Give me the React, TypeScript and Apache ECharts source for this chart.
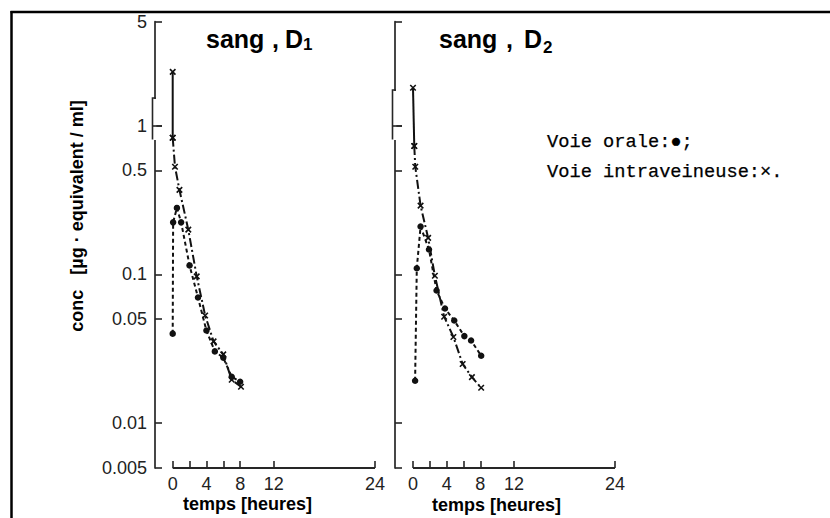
import React, { useEffect, useRef } from "react";
import * as echarts from "echarts";

// Axis ticks and labels
const timeTicks = [0, 2, 4, 6, 8, 12, 24];
const timeLabels = [0, 4, 8, 12, 24];
const concTicks = [0.005, 0.01, 0.05, 0.1, 0.5, 1, 5];
const concLabels = ["0.005", "0.01", "0.05", "0.1", "0.5", "1", "5"];

// sang, D1 — [temps (h), conc (µg-équivalent/ml)]
const d1Iv: [number, number][] = [
  [0, 2.3], [0, 0.83], [0.27, 0.53], [0.8, 0.37], [1.85, 0.2], [2.85, 0.097],
  [3.85, 0.053], [4.85, 0.0355], [6, 0.029], [7, 0.0196], [8.1, 0.0176],
];
const d1Oral: [number, number][] = [
  [0, 0.04], [0.05, 0.224], [0.5, 0.28], [1, 0.224], [2, 0.115], [3, 0.07],
  [4, 0.042], [5, 0.0304], [6, 0.0276], [7, 0.0205], [8, 0.019],
];

// sang, D2
const d2Iv: [number, number][] = [
  [0, 1.8], [0.15, 0.73], [0.27, 0.53], [0.9, 0.29], [1.8, 0.176], [2.6, 0.098],
  [3.7, 0.052], [4.8, 0.038], [5.9, 0.025], [7, 0.0204], [8.1, 0.0173],
];
const d2Oral: [number, number][] = [
  [0.25, 0.0193], [0.45, 0.11], [0.9, 0.21], [1.9, 0.147], [2.8, 0.078], [3.8, 0.059],
  [4.9, 0.049], [6.1, 0.0385], [6.9, 0.036], [8.1, 0.0284],
];

const INK = "#111";
const AXIS = "#262626";
const SANS = "Liberation Sans, Arial, sans-serif";
const MONO = "Liberation Mono, Courier New, monospace";

const PLOT_TOP = 21.7;
const PLOT_BOTTOM = 468;

// y-axis position, x of t=0, x of t=24
const panels = [
  { axisX: 155, zeroX: 172.7, endX: 375, iv: d1Iv, oral: d1Oral, showY: true },
  { axisX: 395, zeroX: 413, endX: 615, iv: d2Iv, oral: d2Oral, showY: false },
];

const CROSS = "path://M0,0L10,10M10,0L0,10";

function buildOption() {
  const grid: any[] = [];
  const xAxis: any[] = [];
  const yAxis: any[] = [];
  const series: any[] = [];
  const graphic: any[] = [];

  panels.forEach((p, i) => {
    const perHour = (p.endX - p.zeroX) / 24;
    const xMin = -(p.zeroX - p.axisX) / perHour;
    grid.push({
      left: p.axisX,
      top: PLOT_TOP,
      width: p.endX - p.axisX,
      height: PLOT_BOTTOM - PLOT_TOP,
      containLabel: false,
    });
    xAxis.push({
      gridIndex: i,
      type: "value",
      min: xMin,
      max: 24,
      axisLine: { show: false, onZero: false },
      splitLine: { show: false },
      axisTick: {
        show: true,
        inside: true,
        length: 7,
        customValues: timeTicks,
        lineStyle: { color: AXIS, width: 1.6 },
      },
      axisLabel: {
        customValues: timeLabels,
        fontSize: 18,
        fontFamily: SANS,
        color: "#222",
        margin: 7,
      },
    });
    yAxis.push({
      gridIndex: i,
      type: "log",
      logBase: 10,
      min: 0.005,
      max: 5,
      axisLine: { show: true, onZero: false, lineStyle: { color: AXIS, width: 1.7 } },
      splitLine: { show: false },
      axisTick: {
        show: true,
        inside: true,
        length: 7,
        customValues: concTicks,
        lineStyle: { color: AXIS, width: 1.6 },
      },
      axisLabel: {
        show: p.showY,
        customValues: concTicks,
        fontSize: 18,
        fontFamily: SANS,
        color: "#222",
        margin: 8,
        formatter: (v: number) => {
          let best = 0;
          concTicks.forEach((t, k) => {
            if (Math.abs(Math.log10(t) - Math.log10(v)) < Math.abs(Math.log10(concTicks[best]) - Math.log10(v))) best = k;
          });
          return concLabels[best];
        },
      },
    });

    const common = {
      type: "line",
      xAxisIndex: i,
      yAxisIndex: i,
      clip: false,
      silent: true,
    };
    // intravenous: solid first drop, then dash-dot
    series.push({
      ...common,
      data: p.iv.slice(0, 2),
      symbol: CROSS,
      symbolSize: 5.5,
      itemStyle: { color: INK, borderColor: INK, borderWidth: 1.6 },
      lineStyle: { color: INK, width: 2, type: "solid" },
    });
    series.push({
      ...common,
      data: p.iv.slice(1),
      symbol: CROSS,
      symbolSize: 5.5,
      itemStyle: { color: INK, borderColor: INK, borderWidth: 1.6 },
      lineStyle: { color: INK, width: 2, type: [9, 3, 2, 3] },
    });
    // oral: short dashes
    series.push({
      ...common,
      data: p.oral,
      symbol: "circle",
      symbolSize: 6.5,
      itemStyle: { color: INK, borderWidth: 0 },
      lineStyle: { color: INK, width: 2, type: [4, 3] },
    });

    // time axis line from t=0 to t=24
    graphic.push({
      type: "line",
      z: 50,
      shape: { x1: p.zeroX, y1: PLOT_BOTTOM, x2: p.endX, y2: PLOT_BOTTOM },
      style: { stroke: AXIS, lineWidth: 1.8 },
    });

    // broken-axis bracket around 1
    const bx = p.axisX - 2.5;
    const top = i === 0 ? 98 : 90;
    graphic.push(
      {
        type: "rect",
        z: 60,
        shape: { x: p.axisX - 1.2, y: top + 1, width: 2.6, height: 139 - top },
        style: { fill: "#fff" },
      },
      {
        type: "polyline",
        z: 61,
        shape: { points: [[p.axisX + 0.8, top], [bx, top], [bx, 139.5]] },
        style: { stroke: AXIS, lineWidth: 1.6, fill: null },
      },
      {
        type: "line",
        z: 61,
        shape: { x1: bx, y1: 126, x2: p.axisX + 7, y2: 126 },
        style: { stroke: AXIS, lineWidth: 1.6 },
      }
    );
  });

  const TITLE_FONT = `bold 25px ${SANS}`;
  const title = (x: number, comma: number, d: number, sub: string, subX: number, subY: number) => [
    { type: "text", z: 70, x, y: 39.3, style: { text: "sang", font: TITLE_FONT, fill: "#000", textVerticalAlign: "middle" } },
    { type: "text", z: 70, x: comma, y: 39.3, style: { text: ",", font: TITLE_FONT, fill: "#000", textVerticalAlign: "middle" } },
    { type: "text", z: 70, x: d, y: 39.3, style: { text: "D", font: TITLE_FONT, fill: "#000", textVerticalAlign: "middle" } },
    { type: "text", z: 70, x: subX, y: subY, style: { text: sub, font: `bold 17px ${SANS}`, fill: "#000", textVerticalAlign: "middle" } },
  ];

  const legendStyle = { font: `18.7px ${MONO}`, fill: "#000", stroke: "#000", lineWidth: 0.25, textVerticalAlign: "middle" };

  graphic.push(
    // frame
    { type: "line", z: 80, shape: { x1: 10.5, y1: 12, x2: 830, y2: 12 }, style: { stroke: "#000", lineWidth: 2.5 } },
    { type: "line", z: 80, shape: { x1: 11.5, y1: 11, x2: 11.5, y2: 518 }, style: { stroke: "#000", lineWidth: 2.5 } },
    ...title(206, 272, 285, "1", 303, 44.4),
    ...title(439, 506, 524, "2", 543, 47.7),
    // axis names
    {
      type: "text",
      z: 70,
      x: 77,
      y: 216,
      rotation: Math.PI / 2,
      style: {
        text: "conc   [µg · equivalent / ml]",
        font: `bold 18px ${SANS}`,
        fill: "#000",
        textAlign: "center",
        textVerticalAlign: "middle",
      },
    },
    { type: "text", z: 70, x: 183, y: 503.8, style: { text: "temps [heures]", font: `bold 18px ${SANS}`, fill: "#000", textVerticalAlign: "middle" } },
    { type: "text", z: 70, x: 432, y: 505, style: { text: "temps [heures]", font: `bold 18px ${SANS}`, fill: "#000", textVerticalAlign: "middle" } },
    // legend
    { type: "text", z: 70, x: 547, y: 141.7, style: { text: "Voie orale:●;", ...legendStyle } },
    { type: "text", z: 70, x: 547, y: 172, style: { text: "Voie intraveineuse:×.", ...legendStyle } }
  );

  return {
    animation: false,
    backgroundColor: "#fff",
    grid,
    xAxis,
    yAxis,
    series,
    graphic,
  };
}

export default function App() {
  const ref = useRef<HTMLDivElement>(null);
  useEffect(() => {
    if (!ref.current) return;
    const chart = echarts.init(ref.current, null, { renderer: "svg" });
    chart.setOption(buildOption() as any);
    return () => chart.dispose();
  }, []);
  return (
    <div
      ref={ref}
      style={{ position: "fixed", left: 0, top: 0, width: 830, height: 518, background: "#fff" }}
    />
  );
}
